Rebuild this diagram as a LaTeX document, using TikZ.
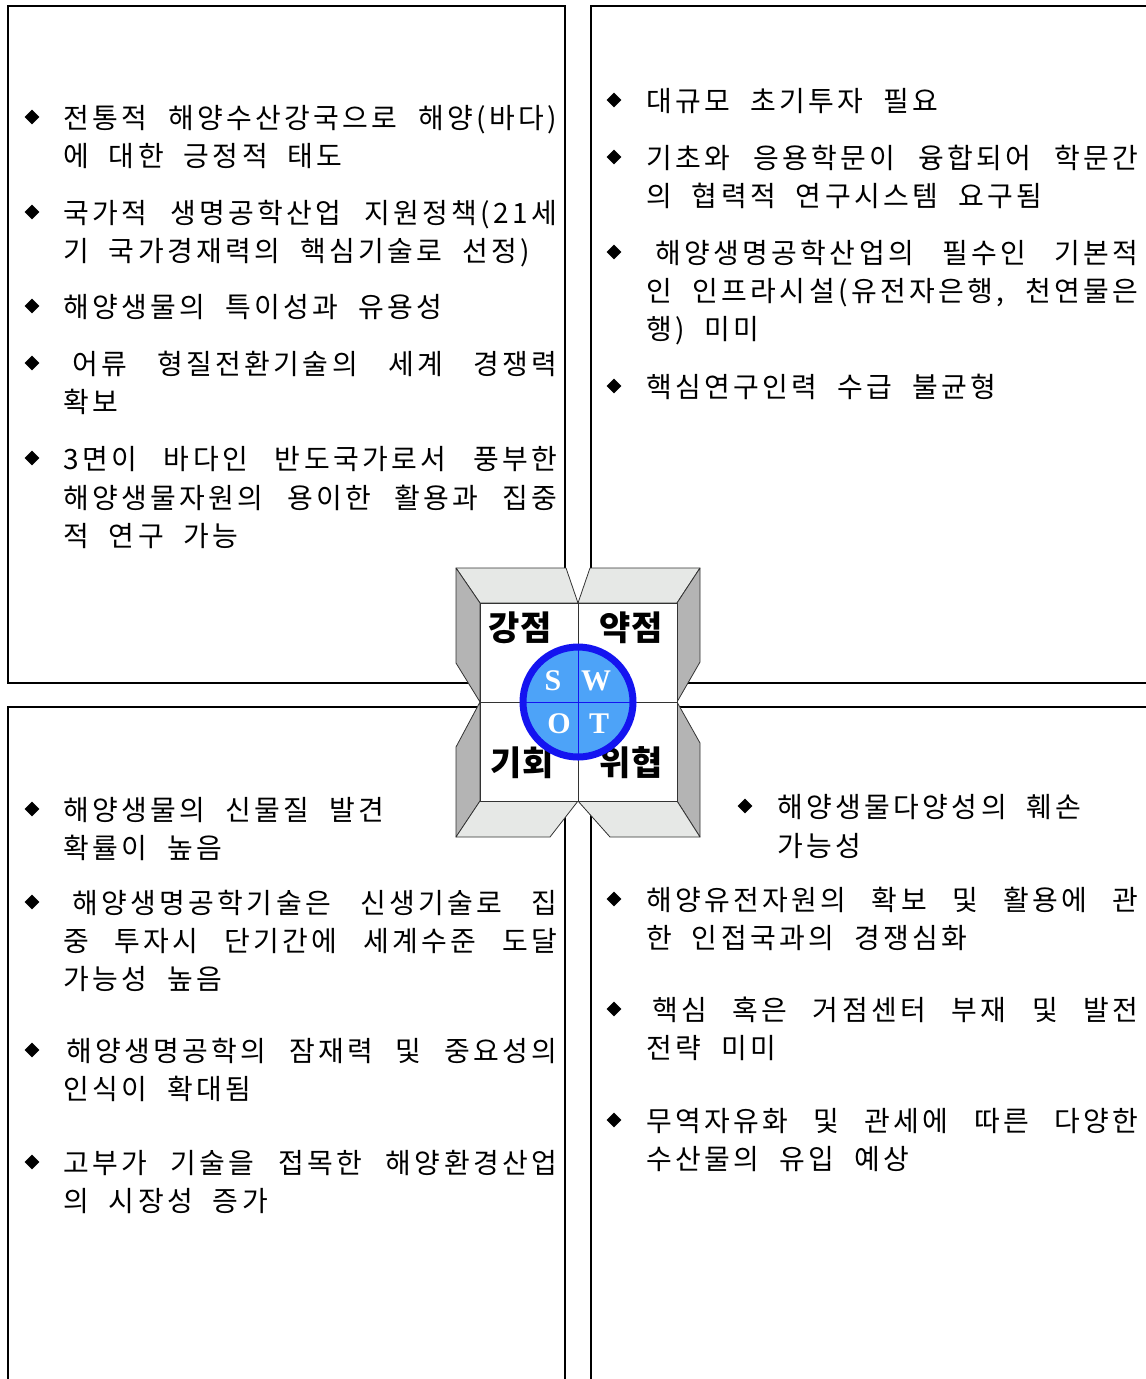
\documentclass[tikz,border=0pt]{standalone}
\usepackage{fontspec}
\setmainfont[LetterSpace=12]{Noto Sans CJK KR}
\newfontfamily\labfont{Noto Sans CJK KR}
\newfontfamily\swotfont{Liberation Serif}
\usetikzlibrary{shapes.geometric}
\definecolor{topface}{RGB}{230,232,230}
\definecolor{sideface}{RGB}{180,180,180}
\definecolor{ringblue}{RGB}{20,20,240}
\definecolor{fillblue}{RGB}{77,163,248}
\newcommand\ws{\hspace{20pt}}
\begin{document}
\begin{tikzpicture}[x=1pt,y=-1pt,
  box/.style={draw=black,line width=2.5pt},
  bul/.style={diamond,fill=black,inner sep=0pt,minimum width=15pt,minimum height=15pt},
  ln/.style={anchor=west,inner sep=0pt,font=\fontsize{28}{34}\selectfont,text height=25pt,text depth=3pt},
  face/.style={draw=black!80,line width=0.8pt,line join=round},
  lab/.style={font=\labfont\fontsize{34}{40}\selectfont\bfseries,inner sep=0pt},
  swl/.style={font=\swotfont\fontsize{30}{36}\selectfont\bfseries,text=white,inner sep=0pt}]
\useasboundingbox[fill=white] (0,0) rectangle (1146,1379);

% quadrant boxes
\draw[box] (8,6) rectangle (565,683);
\draw[box] (591,6) rectangle (1148,683);
\draw[box] (8,707) rectangle (565,1395);
\draw[box] (591,707) rectangle (1148,1395);

% ---- top-left: strengths
\node[bul] (b11) at (32,117) {};
\node[ln] (s1a) at (63,117) {\makebox[494pt]{전통적\hfill 해양수산강국으로\hfill 해양(바다)}};
\node[ln] (s1b) at (63,155) {에\ws 대한\ws 긍정적\ws 태도};
\node[bul] (b12) at (32,212) {};
\node[ln] (s2a) at (63,212) {\makebox[494pt]{국가적\hfill 생명공학산업\hfill 지원정책(21세}};
\node[ln] (s2b) at (63,250) {기\ws 국가경재력의\ws 핵심기술로\ws 선정)};
\node[bul] (b13) at (32,306) {};
\node[ln] (s3a) at (63,306) {해양생물의\ws 특이성과\ws 유용성};
\node[bul] (b14) at (32,363) {};
\node[ln] (s4a) at (72,363) {\makebox[485pt]{어류\hfill 형질전환기술의\hfill 세계\hfill 경쟁력}};
\node[ln] (s4b) at (63,401) {확보};
\node[bul] (b15) at (32,458) {};
\node[ln] (s5a) at (63,458) {\makebox[494pt]{3면이\hfill 바다인\hfill 반도국가로서\hfill 풍부한}};
\node[ln] (s5b) at (63,497) {\makebox[494pt]{해양생물자원의\hfill 용이한\hfill 활용과\hfill 집중}};
\node[ln] (s5c) at (63,535) {적\ws 연구\ws 가능};

% ---- top-right: weaknesses
\node[bul] (b21) at (614,100) {};
\node[ln] (w1a) at (646,100) {대규모\ws 초기투자\ws 필요};
\node[bul] (b22) at (614,157) {};
\node[ln] (w2a) at (646,157) {\makebox[492pt]{기초와\hfill 응용학문이\hfill 융합되어\hfill 학문간}};
\node[ln] (w2b) at (646,195) {의\ws 협력적\ws 연구시스템\ws 요구됨};
\node[bul] (b23) at (614,252) {};
\node[ln] (w3a) at (655,252) {\makebox[483pt]{해양생명공학산업의\hfill 필수인\hfill 기본적}};
\node[ln] (w3b) at (646,290) {\makebox[492pt]{인\hfill 인프라시설(유전자은행,\hfill 천연물은}};
\node[ln] (w3c) at (646,328) {행)\ws 미미};
\node[bul] (b24) at (614,386) {};
\node[ln] (w4a) at (646,386) {핵심연구인력\ws 수급\ws 불균형};

% ---- bottom-left: opportunities
\node[bul] (b31) at (32,809) {};
\node[ln] (o1a) at (63,809) {해양생물의\ws 신물질\ws 발견};
\node[ln] (o1b) at (63,847) {확률이\ws 높음};
\node[bul] (b32) at (32,902) {};
\node[ln] (o2a) at (72,902) {\makebox[485pt]{해양생명공학기술은\hfill 신생기술로\hfill 집}};
\node[ln] (o2b) at (63,940) {\makebox[494pt]{중\hfill 투자시\hfill 단기간에\hfill 세계수준\hfill 도달}};
\node[ln] (o2c) at (63,978) {가능성\ws 높음};
\node[bul] (b33) at (32,1050) {};
\node[ln] (o3a) at (66,1050) {\makebox[491pt]{해양생명공학의\hfill 잠재력\hfill 및\hfill 중요성의}};
\node[ln] (o3b) at (63,1088) {인식이\ws 확대됨};
\node[bul] (b34) at (32,1162) {};
\node[ln] (o4a) at (63,1162) {\makebox[494pt]{고부가\hfill 기술을\hfill 접목한\hfill 해양환경산업}};
\node[ln] (o4b) at (63,1200) {의\ws 시장성\ws 증가};

% ---- bottom-right: threats
\node[bul] (b41) at (745,806) {};
\node[ln] (t1a) at (777,806) {해양생물다양성의\ws 훼손};
\node[ln] (t1b) at (777,845) {가능성};
\node[bul] (b42) at (614,899) {};
\node[ln] (t2a) at (646,899) {\makebox[492pt]{해양유전자원의\hfill 확보\hfill 및\hfill 활용에\hfill 관}};
\node[ln] (t2b) at (646,937) {한\ws 인접국과의\ws 경쟁심화};
\node[bul] (b43) at (614,1009) {};
\node[ln] (t3a) at (652,1009) {\makebox[486pt]{핵심\hfill 혹은\hfill 거점센터\hfill 부재\hfill 및\hfill 발전}};
\node[ln] (t3b) at (646,1047) {전략\ws 미미};
\node[bul] (b44) at (614,1120) {};
\node[ln] (t4a) at (646,1120) {\makebox[492pt]{무역자유화\hfill 및\hfill 관세에\hfill 따른\hfill 다양한}};
\node[ln] (t4b) at (646,1158) {수산물의\ws 유입\ws 예상};

% ---- central SWOT emblem
\filldraw[face,fill=topface] (456,568) -- (566,568) -- (578,603) -- (480,603) -- cycle;
\filldraw[face,fill=topface] (578,603) -- (590,568) -- (700,568) -- (677,603) -- cycle;
\filldraw[face,fill=sideface] (456,568) -- (480,603) -- (480,702) -- (456,663) -- cycle;
\filldraw[face,fill=sideface] (700,568) -- (677,603) -- (677,702) -- (700,662) -- cycle;
\filldraw[face,fill=sideface] (480,702) -- (456,747) -- (456,837) -- (480,801) -- cycle;
\filldraw[face,fill=sideface] (677,702) -- (700,743) -- (700,837) -- (677,801) -- cycle;
\filldraw[face,fill=topface] (480,801) -- (578,801) -- (550,837) -- (456,837) -- cycle;
\filldraw[face,fill=topface] (578,801) -- (677,801) -- (700,837) -- (610,837) -- cycle;
\filldraw[face,fill=white] (480,603) rectangle (677,801);
\draw[face] (578,603) -- (578,801);
\draw[face] (480,702) -- (677,702);

\node[lab] (ks) at (520,628) {강점};
\node[lab] (kw) at (631,628) {약점};
\node[lab] (ko) at (522,763) {기회};
\node[lab] (kt) at (631,763) {위협};

\node[circle,draw=ringblue,line width=7pt,fill=fillblue,minimum size=110pt,inner sep=0pt] (swot) at (578,702) {};
\draw[ringblue,line width=1pt] (swot.north) -- (swot.south);
\draw[ringblue,line width=1pt] (swot.west) -- (swot.east);
\node[swl] (ls) at (553,681) {S};
\node[swl] (lw) at (596,681) {W};
\node[swl] (lo) at (559,724) {O};
\node[swl] (lt) at (599,724) {T};
\end{tikzpicture}
\end{document}
